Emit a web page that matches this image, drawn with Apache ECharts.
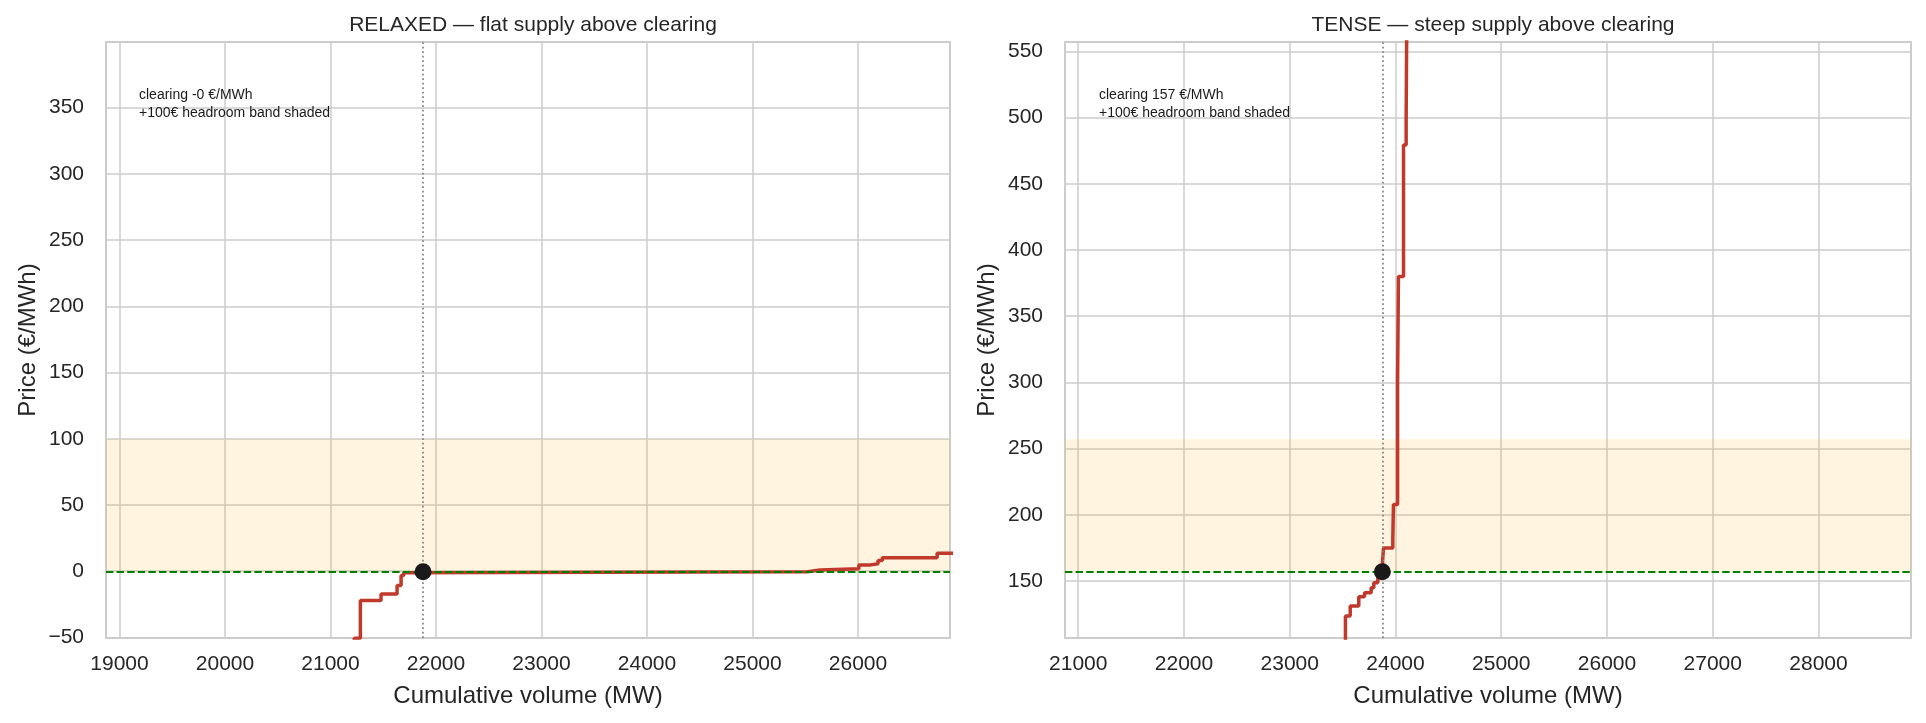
<!DOCTYPE html>
<html>
<head>
<meta charset="utf-8">
<script src="https://cdn.jsdelivr.net/npm/echarts@6/dist/echarts.min.js"></script>
<style>
html, body { margin: 0; padding: 0; background: #fff; }
#chart { width: 1926px; height: 723px; }
</style>
</head>
<body>
<div id="chart"></div>
<script>
// relaxed hour: stepped supply curve (cumulative MW, EUR/MWh), steps-post
var relaxedVolume = [20800, 21225, 21283, 21479, 21631, 21669, 21694, 21712, 25520, 25640, 26008, 26120, 26190, 26231, 26750, 26950];
var relaxedPrice  = [-150, -50.5, -22.1, -17.1, -10.8, -3.3, -1.2, -0.4, 1.0, 1.8, 4.8, 5.6, 8.1, 10.1, 13.6, 13.6];
var relaxedClearing = [21877, -0.4];
var relaxedXRange = [18872, 26872];

// tense hour
var tenseVolume = [23300, 23527, 23572, 23653, 23707, 23770, 23795, 23833, 23855, 23878, 23887, 23975, 23981, 24020, 24028, 24076, 24101, 24117, 24140];
var tensePrice  = [60, 123.6, 131.1, 138.2, 141.2, 144.9, 148.7, 152.5, 156.5, 165, 175, 182.6, 207.8, 299.5, 380, 479.3, 499.4, 700, 700];
var tenseClearing = [23876, 157];
var tenseXRange = [20875, 28875];

var headroom = 100;
var titles = ['RELAXED \u2014 flat supply above clearing', 'TENSE \u2014 steep supply above clearing'];

var FONT = 'Liberation Sans, Arial, sans-serif';
var TXT = '#262626';
var GRID = '#cccccc';

var chart = echarts.init(document.getElementById('chart'));

var grids = [
    {left: 106, top: 42, width: 844, height: 596},
    {left: 1065, top: 42, width: 846, height: 596}
];

function makeX(i, range) {
    return {
        type: 'value', gridIndex: i, min: range[0], max: range[1], splitNumber: 8,
        name: 'Cumulative volume (MW)', nameLocation: 'middle', nameGap: 46,
        nameTextStyle: {fontSize: 24, color: TXT, fontFamily: FONT},
        axisLine: {show: false}, axisTick: {show: false},
        axisLabel: {showMinLabel: false, showMaxLabel: false, margin: 16, fontSize: 21, color: TXT, fontFamily: FONT,
            formatter: function (v) { return String(v); }},
        splitLine: {show: true, lineStyle: {color: GRID, width: 1.5}}
    };
}

function makeY(i, clearingPrice) {
    return {
        type: 'value', gridIndex: i, min: clearingPrice - 50, max: clearingPrice + 400, splitNumber: 9,
        name: 'Price (\u20ac/MWh)', nameLocation: 'middle', nameGap: 66,
        nameTextStyle: {fontSize: 24, color: TXT, fontFamily: FONT},
        axisLine: {show: false}, axisTick: {show: false},
        axisLabel: {showMinLabel: false, showMaxLabel: false, margin: 22, fontSize: 21, color: TXT, fontFamily: FONT,
            formatter: function (v) { return String(v).replace('-', '\u2212'); }},
        splitLine: {show: true, lineStyle: {color: GRID, width: 1.5}}
    };
}

function panelSeries(i, vol, price, clearing) {
    var curve = vol.map(function (v, k) { return [v, price[k]]; });
    return [
        {   // headroom band
            type: 'line', xAxisIndex: i, yAxisIndex: i, data: [], z: 1, silent: true,
            markArea: {silent: true, itemStyle: {color: 'rgba(255,165,0,0.12)'},
                data: [[{yAxis: clearing[1]}, {yAxis: clearing[1] + headroom}]]}
        },
        {
            type: 'line', xAxisIndex: i, yAxisIndex: i, step: 'end', data: curve, z: 2,
            showSymbol: false, symbol: 'none', clip: true,
            lineStyle: {color: '#c0392b', width: 3.5}
        },
        {   // clearing price / volume reference lines
            type: 'line', xAxisIndex: i, yAxisIndex: i, data: [], z: 3, silent: true,
            markLine: {silent: true, symbol: 'none', label: {show: false}, animation: false,
                data: [
                    {yAxis: clearing[1], lineStyle: {color: '#008000', width: 2, type: [7.4, 3.2]}},
                    {xAxis: clearing[0], lineStyle: {color: '#808080', width: 1.7, type: [1.7, 2.8]}}
                ]}
        },
        {
            type: 'scatter', xAxisIndex: i, yAxisIndex: i, data: [clearing], z: 10, zlevel: 1,
            symbolSize: 17, itemStyle: {color: '#1a1a1a', opacity: 1}
        }
    ];
}

function note(clearing) {
    return 'clearing ' + clearing[1].toFixed(0) + ' \u20ac/MWh\n+' + headroom + '\u20ac headroom band shaded';
}

var option = {
    animation: false,
    backgroundColor: '#ffffff',
    title: [
        {text: titles[0], left: 528, top: 10, textAlign: 'center',
            textStyle: {fontSize: 21, fontWeight: 'normal', color: TXT, fontFamily: FONT}},
        {text: titles[1], left: 1488, top: 10, textAlign: 'center',
            textStyle: {fontSize: 21, fontWeight: 'normal', color: TXT, fontFamily: FONT}}
    ],
    grid: grids.map(function (g) {
        return Object.assign({show: true, borderColor: GRID, borderWidth: 2, backgroundColor: '#ffffff'}, g);
    }),
    xAxis: [makeX(0, relaxedXRange), makeX(1, tenseXRange)],
    yAxis: [makeY(0, relaxedClearing[1]), makeY(1, tenseClearing[1])],
    series: panelSeries(0, relaxedVolume, relaxedPrice, relaxedClearing)
        .concat(panelSeries(1, tenseVolume, tensePrice, tenseClearing)),
    graphic: [
        {type: 'text', left: 139, top: 86, z: 10,
            style: {text: note(relaxedClearing), font: '14px ' + FONT, fill: '#1a1a1a', lineHeight: 18}},
        {type: 'text', left: 1099, top: 86, z: 10,
            style: {text: note(tenseClearing), font: '14px ' + FONT, fill: '#1a1a1a', lineHeight: 18}}
    ]
};

chart.setOption(option);
</script>
</body>
</html>
